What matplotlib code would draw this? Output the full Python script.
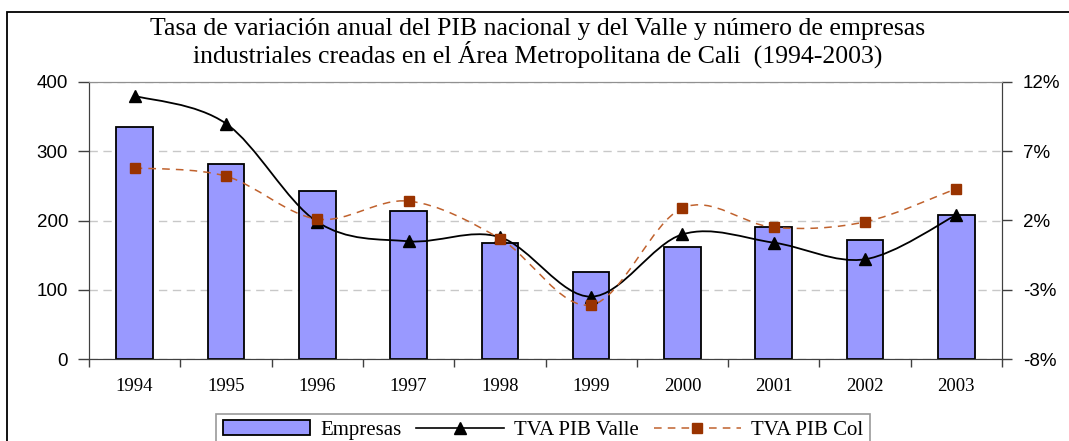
import numpy as np
import matplotlib.pyplot as plt
from matplotlib.path import Path
from matplotlib.patches import PathPatch, Rectangle
from matplotlib.lines import Line2D
from matplotlib.ticker import FixedLocator

# datos
anios = ['1994', '1995', '1996', '1997', '1998', '1999', '2000', '2001', '2002', '2003']
empresas = [335, 282, 243, 214, 168, 126, 162, 190, 172, 208]
tva_valle = [11.0, 9.0, 1.9, 0.5, 0.8, -3.5, 1.0, 0.4, -0.8, 2.4]
tva_col = [5.8, 5.2, 2.1, 3.4, 0.7, -4.1, 2.9, 1.5, 1.9, 4.3]
pct_ticks = [-8, -3, 2, 7, 12]

serif = 'Liberation Serif'
sans = 'Liberation Sans'


def curva_suave(xs, ys):
    # curva tipo "suavizada" de Excel (Catmull-Rom en Bezier)
    pts = np.column_stack([xs, ys]).astype(float)
    n = len(pts)
    verts = [pts[0]]
    codes = [Path.MOVETO]
    for i in range(n - 1):
        p0 = pts[i - 1] if i > 0 else pts[i]
        p1 = pts[i]
        p2 = pts[i + 1]
        p3 = pts[i + 2] if i + 2 < n else pts[i + 1]
        verts += [p1 + (p2 - p0) / 6, p2 - (p3 - p1) / 6, p2]
        codes += [Path.CURVE4] * 3
    return Path(verts, codes)


fig = plt.figure(figsize=(10.69, 4.41), dpi=100)
ax1 = fig.add_axes([89 / 1069, 1 - 359 / 441, (1002 - 89) / 1069, (359 - 82) / 441])
ax2 = ax1.twinx()

x = np.arange(len(anios))
ax1.bar(x, empresas, width=0.4, color='#9999ff', edgecolor='black', linewidth=1.3, zorder=2)
ax1.set_xlim(-0.5, len(anios) - 0.5)
ax1.set_ylim(0, 400)
ax1.set_yticks([0, 100, 200, 300, 400])
ax1.yaxis.grid(True, color='#c8c8c8', linestyle=(0, (6, 4)), linewidth=1)
ax1.set_axisbelow(True)

ax1.set_xticks(x)
ax1.set_xticklabels(anios)
ax1.xaxis.set_minor_locator(FixedLocator(np.arange(-0.5, len(anios), 1)))
ax1.tick_params(axis='x', which='major', length=0, pad=14, labelsize=13.5)
ax1.tick_params(axis='x', which='minor', length=6, width=1, color='#404040')
ax1.tick_params(axis='y', length=8, width=1, pad=7, labelsize=13.5, color='#404040')
for lab in ax1.get_xticklabels():
    lab.set_fontfamily(serif)
for lab in ax1.get_yticklabels():
    lab.set_fontfamily(sans)

ax2.set_ylim(-8, 12)
ax2.set_yticks(pct_ticks)
ax2.set_yticklabels([f'{v}%' for v in pct_ticks], fontfamily=sans)
ax2.tick_params(axis='y', length=7, width=1, pad=8, labelsize=13.5, color='#404040')

for sp in ['left', 'right', 'bottom']:
    ax1.spines[sp].set_color('#404040')
    ax2.spines[sp].set_color('#404040')
ax1.spines['top'].set_color('#909090')
ax2.spines['top'].set_color('#909090')

# lineas suavizadas
ax2.add_patch(PathPatch(curva_suave(x, tva_valle), fill=False, edgecolor='black', linewidth=1.3, zorder=3))
ax2.add_patch(PathPatch(curva_suave(x, tva_col), fill=False, edgecolor='#c0622e',
                        linewidth=1.1, linestyle=(0, (5, 4)), zorder=3))
ax2.plot(x, tva_valle, linestyle='none', marker='^', markersize=9, color='black', zorder=4)
ax2.plot(x, tva_col, linestyle='none', marker='s', markersize=7.5, color='#993300', zorder=4)

fig.text(0.503, 1 - 43 / 441,
         'Tasa de variación anual del PIB nacional y del Valle y número de empresas\n'
         'industriales creadas en el Área Metropolitana de Cali  (1994-2003)',
         ha='center', va='center', fontfamily=serif, fontsize=18.5, linespacing=1.0)

handles = [
    Rectangle((0, 0), 1, 1, facecolor='#9999ff', edgecolor='black', linewidth=1.3),
    Line2D([], [], color='black', linewidth=1.2, marker='^', markersize=9),
    Line2D([], [], color='#c0622e', linewidth=1.1, linestyle=(0, (5, 4)),
           marker='s', markersize=7.5, markerfacecolor='#993300', markeredgecolor='#993300'),
]
leg = fig.legend(handles, ['Empresas', 'TVA PIB Valle', 'TVA PIB Col'], ncol=3,
                 loc='upper center', bbox_to_anchor=(0.508, 1 - 414 / 441),
                 prop={'family': serif, 'size': 15}, frameon=True, fancybox=False,
                 edgecolor='#808080', handlelength=4.2, handletextpad=0.5,
                 columnspacing=0.7, borderpad=0.3, borderaxespad=0)
leg.get_frame().set_linewidth(1.2)

# marco del grafico
fig.patches.append(Rectangle((7 / 1069, -0.05), 1.1, 1 - 12 / 441 + 0.05,
                             transform=fig.transFigure, fill=False,
                             edgecolor='black', linewidth=1.3))

fig.savefig('out.png', dpi=100)
